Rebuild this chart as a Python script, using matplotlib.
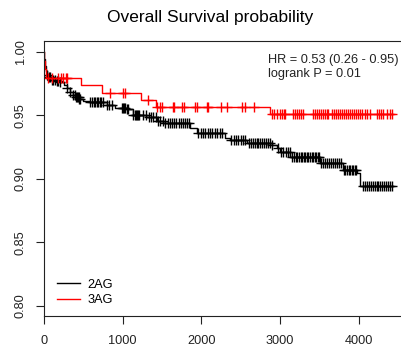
import numpy as np
import matplotlib
matplotlib.use('Agg')
import matplotlib.pyplot as plt

plt.rcParams['font.family'] = ['Liberation Sans', 'DejaVu Sans']

# Kaplan-Meier steps (days, survival)
times_2ag = [0, 5, 12, 20, 35, 60, 100, 150, 200, 250, 290, 330, 370, 410, 450, 500, 585,
             795, 900, 1050, 1135, 1300, 1430, 1515, 1855, 1945, 2300, 2365, 2580, 2900,
             2960, 3000, 3125, 3505, 3800, 3975, 4015]
surv_2ag = [1.0, 0.994, 0.989, 0.985, 0.982, 0.980, 0.978, 0.977, 0.976, 0.9735, 0.9712,
            0.9685, 0.966, 0.9645, 0.963, 0.9615, 0.9605,
            0.958, 0.9555, 0.9547, 0.9502, 0.9484, 0.9455, 0.9437, 0.9397, 0.9358, 0.9318,
            0.9305, 0.9279, 0.9266, 0.924, 0.9213, 0.917, 0.912, 0.9069, 0.9043, 0.8939]
end_2ag = 4435

times_3ag = [0, 5, 15, 30, 466, 733, 1229, 1423, 2872]
surv_3ag = [1.0, 0.993, 0.986, 0.9795, 0.9738, 0.9677, 0.962, 0.9567, 0.9507]
end_3ag = 4440

# censored times
cens_2ag = [40, 60, 80, 100, 120, 140, 160, 180, 200,
            290, 330, 370, 395, 410, 420, 430, 440, 450, 460,
            585, 610, 630, 650, 670, 690, 710, 730, 750,
            800, 830, 860,
            990, 1005, 1020, 1035, 1050, 1065,
            1135, 1150, 1165, 1180, 1195, 1210,
            1260, 1290, 1330, 1360, 1390, 1420,
            1450, 1480, 1510, 1540, 1570, 1600,
            1620, 1650, 1680, 1710, 1740, 1765,
            1790, 1815, 1840,
            1960, 1990, 2020, 2050, 2080, 2110, 2140, 2170, 2200, 2230, 2260,
            2380, 2410, 2440, 2470, 2500, 2530, 2555,
            2600, 2625, 2650, 2675, 2700, 2725, 2750, 2775, 2800, 2825, 2850, 2875, 2900,
            2975, 3010, 3040, 3070, 3100, 3120,
            3150, 3180, 3200, 3220, 3240, 3260, 3280, 3300, 3320, 3340, 3360, 3380, 3400,
            3420, 3440, 3460, 3480, 3500,
            3520, 3545, 3570, 3595, 3620, 3645, 3670, 3695, 3720,
            3750, 3780,
            3810, 3830, 3850, 3870, 3890, 3910, 3930, 3950, 3970,
            4050, 4075, 4100, 4125, 4150, 4175, 4200, 4225, 4250, 4275, 4300, 4325, 4350,
            4375, 4400, 4425]
cens_3ag = [51, 102, 178, 216, 241, 280, 292, 839, 1004, 1029, 1321, 1436, 1474, 1500,
            1640, 1652, 1753, 1779, 1919, 1944, 2071, 2084, 2249, 2325, 2516, 2554, 2668,
            2900, 2925, 2960, 3000, 3020, 3045, 3065, 3165, 3190, 3215, 3240, 3265, 3290,
            3420, 3445, 3470, 3495, 3520, 3545, 3570, 3595, 3610, 3660, 3685, 3710, 3735,
            3760, 3785, 3810, 3835, 3860, 3885, 3910, 3935, 3960, 3985, 4010, 4040, 4080,
            4110, 4140, 4230, 4255, 4280, 4305, 4360, 4390, 4420]

groups = ["2AG", "3AG"]
colors = ["black", "red"]


def surv_at(times, surv, t):
    idx = np.searchsorted(times, t, side='right') - 1
    return np.asarray(surv)[idx]


fig = plt.figure(figsize=(4.01, 3.44), dpi=100)
ax = fig.add_axes([44 / 401, 28 / 344, 357 / 401, 275 / 344])

curves = [(times_2ag, surv_2ag, end_2ag, cens_2ag), (times_3ag, surv_3ag, end_3ag, cens_3ag)]
for (t, s, end, cens), name, col in zip(curves, groups, colors):
    x = list(t) + [end]
    y = list(s) + [s[-1]]
    ax.step(x, y, where='post', color=col, lw=1.0, label=name)
    ax.plot(cens, surv_at(t, s, cens), linestyle='none', marker='+',
            markersize=7, mew=1.0, color=col)

ax.set_xlim(0, 4536)
ax.set_ylim(0.7919, 1.0084)
ax.set_xticks([0, 1000, 2000, 3000, 4000])
ax.set_yticks([0.80, 0.85, 0.90, 0.95, 1.00])
ax.set_yticklabels(['0.80', '0.85', '0.90', '0.95', '1.00'], rotation=90, va='center')
ax.tick_params(direction='out', length=5.5, width=0.8, labelsize=9.2, colors='#222222')
ax.tick_params(axis='y', pad=7)
ax.tick_params(axis='x', pad=8)
ax.spines['right'].set_visible(False)
for sp in ['left', 'bottom', 'top']:
    ax.spines[sp].set_linewidth(0.8)
    ax.spines[sp].set_color('#222222')

ax.legend(loc='lower left', bbox_to_anchor=(0.036, 0.035), frameon=False, fontsize=9.2,
          borderpad=0, borderaxespad=0, handlelength=1.85, handletextpad=0.55,
          labelspacing=0.3)

ax.text(0.627, 0.905, "HR = 0.53 (0.26 - 0.95)\nlogrank P = 0.01", transform=ax.transAxes,
        fontsize=9.2, ha='left', va='center', color='#222222')

fig.text(0.525, 0.948, "Overall Survival probability", ha='center', va='center', fontsize=12.5)

fig.savefig('out.png', dpi=100)
